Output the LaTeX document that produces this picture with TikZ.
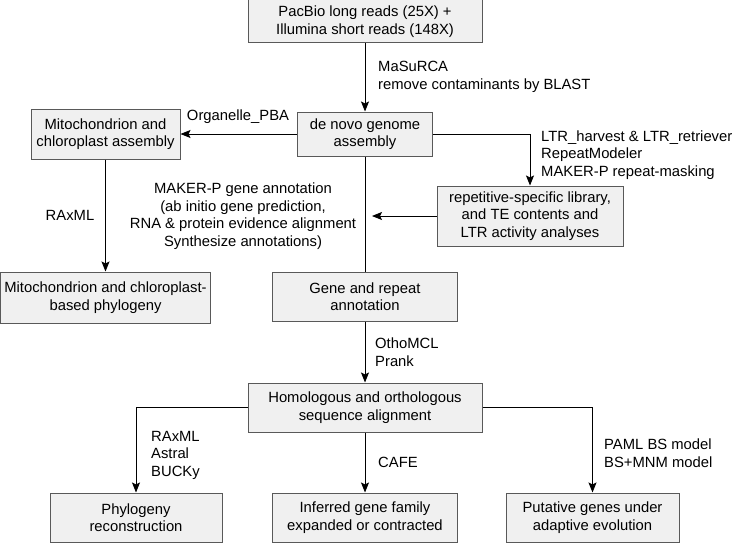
\documentclass[tikz,border=0pt]{standalone}
\usepackage{fontspec}
\setmainfont{Liberation Sans}
\usetikzlibrary{arrows.meta}

\begin{document}
\begin{tikzpicture}[x=1pt,y=-1pt,
	box/.style={draw=black!65, line width=1pt, fill=black!6, align=center, inner sep=0pt},
	lbl/.style={align=left, anchor=west, inner sep=0pt},
	arr/.style={-{Stealth[length=10pt,width=8pt,inset=2pt]}, line width=0.9pt}]
	\tikzstyle{every node}=[font=\fontsize{14.8}{17.5}\selectfont]
		\useasboundingbox (0,0) rectangle (733,543);
		% boxes
		\node [box, minimum width=234pt, minimum height=43pt] (reads) at (365,21.5) {PacBio long reads (25X) +\\Illumina short reads (148X)};
		\node [box, minimum width=135pt, minimum height=44pt] (assembly) at (365,134) {de novo genome\\assembly};
		\node [box, minimum width=149pt, minimum height=50pt] (organelle) at (105.5,134) {Mitochondrion and\\chloroplast assembly};
		\node [box, minimum width=186pt, minimum height=60pt] (repeats) at (530,216) {repetitive-specific library,\\and TE contents and\\LTR activity analyses};
		\node [box, minimum width=210pt, minimum height=51pt] (orgtree) at (105.5,297.5) {Mitochondrion and chloroplast-\\based phylogeny};
		\node [box, minimum width=185pt, minimum height=49pt] (annotation) at (365,296.5) {Gene and repeat\\annotation};
		\node [box, minimum width=234pt, minimum height=49pt] (ortho) at (365,407.5) {Homologous and orthologous\\sequence alignment};
		\node [box, minimum width=172pt, minimum height=49pt] (phylo) at (136,517.5) {Phylogeny\\reconstruction};
		\node [box, minimum width=185pt, minimum height=49pt] (family) at (365,517.5) {Inferred gene family\\expanded or contracted};
		\node [box, minimum width=173pt, minimum height=49pt] (adaptive) at (592.5,517.5) {Putative genes under\\adaptive evolution};
		% tool labels
		\node [lbl] (masurca) at (378,77) {MaSuRCA\\remove contaminants by BLAST};
		\node [inner sep=0pt] (pba) at (238,117) {Organelle\_PBA};
		\node [lbl] (ltr) at (541,155) {LTR\_harvest \& LTR\_retriever\\RepeatModeler\\MAKER-P repeat-masking};
		\node [align=center, inner sep=0pt] (maker) at (243,216) {MAKER-P gene annotation\\(ab initio gene prediction,\\RNA \& protein evidence alignment\\Synthesize annotations)};
		\node [inner sep=0pt] (raxml) at (70,215) {RAxML};
		\node [lbl] (orthomcl) at (375,352) {OthoMCL\\Prank};
		\node [lbl] (trees) at (151,455) {RAxML\\Astral\\BUCKy};
		\node [lbl] (cafe) at (378,462) {CAFE};
		\node [lbl] (paml) at (604,453) {PAML BS model\\BS+MNM model};
		% connectors
		\coordinate (trunk) at (372,216);
		\draw [arr] (reads) -- (assembly);
		\draw [arr] (assembly.west) -- (organelle.east|-assembly.west);
		\draw [arr] (assembly.east) -| (repeats.north);
		\draw [arr] (repeats.west) -- (trunk);
		\draw [line width=0.9pt] (assembly) -- (annotation);
		\draw [arr] (organelle) -- (orgtree);
		\draw [arr] (annotation) -- (ortho);
		\draw [arr] (ortho.west) -| (phylo.north);
		\draw [arr] (ortho) -- (family);
		\draw [arr] (ortho.east) -| (adaptive.north);
	\end{tikzpicture}
\end{document}
